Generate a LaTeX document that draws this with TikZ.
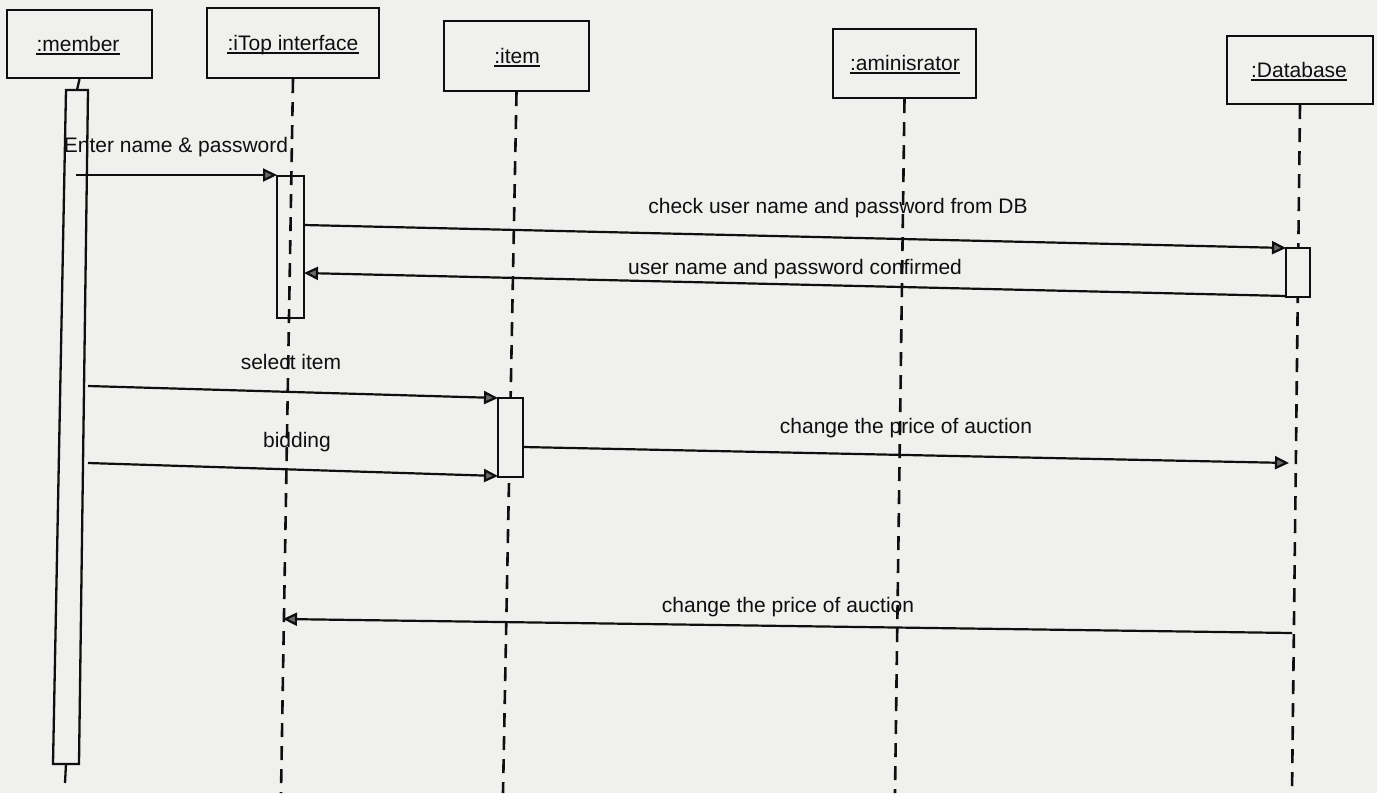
\documentclass[tikz,border=0pt]{standalone}
\usepackage{fontspec}
\setmainfont{Liberation Sans}
\usetikzlibrary{arrows.meta}
\definecolor{paper}{RGB}{240,240,238}
\definecolor{ink}{RGB}{15,15,15}
\definecolor{headfill}{RGB}{105,105,105}
\begin{document}
\begin{tikzpicture}[x=1pt,y=-1pt,
  every node/.style={font=\fontsize{21}{24}\selectfont, inner sep=0pt, text=ink},
  objbox/.style={draw=ink, line width=2.3pt, inner sep=0pt},
  objname/.style={anchor=base},
  uline/.style={draw=ink, line width=1.6pt},
  lifeline/.style={draw=ink, line width=2.6pt, dash pattern=on 14pt off 9pt},
  solidline/.style={draw=ink, line width=2.3pt},
  actbar/.style={draw=ink, line width=2.3pt},
  msg/.style={draw=ink, line width=2.2pt, -{Triangle[length=14pt,width=13pt,fill=headfill]}},
  msglabel/.style={anchor=base},
]
\useasboundingbox (0,0) rectangle (1377,793);
\fill[paper] (0,0) rectangle (1377,793);

% ---- object boxes ----
\node[objbox, minimum width=145pt, minimum height=68pt] (member) at (79.5,44) {};
\node[objbox, minimum width=172pt, minimum height=70pt] (itop)   at (293,43)   {};
\node[objbox, minimum width=145pt, minimum height=70pt] (item)   at (516.5,56) {};
\node[objbox, minimum width=143pt, minimum height=69pt] (admin)  at (904.5,63.5) {};
\node[objbox, minimum width=146pt, minimum height=68pt] (db)     at (1300,70)  {};

% ---- object names (underlined) ----
\node[objname] (memberT) at (78,51)    {:member};
\node[objname] (itopT)   at (293,50)   {:iTop interface};
\node[objname] (itemT)   at (517,63)   {:item};
\node[objname] (adminT)  at (905,70)   {:aminisrator};
\node[objname] (dbT)     at (1299,77)  {:Database};
\foreach \t in {memberT,itopT,itemT,adminT,dbT}
  \draw[uline] ([yshift=-3pt]\t.base west) -- ([yshift=-3pt]\t.base east);

% ---- lifelines ----
\coordinate (mtop) at (77,90);
\coordinate (mbl)  at (53,764);
\coordinate (mbr)  at (79,764);
\coordinate (mtl)  at (66,90);
\coordinate (mtr)  at (88,90);
\coordinate (mbot) at (66,764);
\coordinate (mend) at (65,783);
\coordinate (itopend)  at (281,793);
\coordinate (itemend)  at (503,793);
\coordinate (adminend) at (895,793);
\coordinate (dbend)    at (1292,793);

\draw[solidline] (member.south) -- (mtop);
\draw[solidline] (mtl) -- (mtr) -- (mbr) -- (mbl) -- cycle;
\draw[solidline] (mbot) -- (mend);

\draw[lifeline] (itop.south)  -- (itopend);
\draw[lifeline] (item.south)  -- (itemend);
\draw[lifeline] (admin.south) -- (adminend);
\draw[lifeline] (db.south)    -- (dbend);

% ---- activation bars ----
\node[actbar, minimum width=27pt, minimum height=142pt] (itopbar) at (290.5,247) {};
\node[actbar, fill=paper, minimum width=25pt, minimum height=79pt] (itembar) at (510.5,437.5) {};
\node[actbar, fill=paper, minimum width=24pt, minimum height=49pt] (dbbar) at (1298,272.5) {};

% ---- message end points ----
\coordinate (m1a) at (76,175);    \coordinate (m1b) at (277,175);
\coordinate (m2a) at (304,225);   \coordinate (m2b) at (1286,248);
\coordinate (m3a) at (1286,296);  \coordinate (m3b) at (304,273);
\coordinate (m4a) at (88,386);    \coordinate (m4b) at (498,398);
\coordinate (m5a) at (88,463);    \coordinate (m5b) at (498,476);
\coordinate (m6a) at (523,447);   \coordinate (m6b) at (1289,463);
\coordinate (m7a) at (1292,633);  \coordinate (m7b) at (283,619);

% ---- messages ----
\draw[msg] (m1a) -- (m1b);
\draw[msg] (m2a) -- (m2b);
\draw[msg] (m3a) -- (m3b);
\draw[msg] (m4a) -- (m4b);
\draw[msg] (m5a) -- (m5b);
\draw[msg] (m6a) -- (m6b);
\draw[msg] (m7a) -- (m7b);

% ---- message labels ----
\node[msglabel] (l1) at (176,152) {Enter name \& password};
\node[msglabel] (l2) at (838,213) {check user name and password from DB};
\node[msglabel] (l3) at (795,274) {user name and password confirmed};
\node[msglabel] (l4) at (291,369) {select item};
\node[msglabel] (l5) at (297,447) {bidding};
\node[msglabel] (l6) at (906,433) {change the price of auction};
\node[msglabel] (l7) at (788,612) {change the price of auction};
\end{tikzpicture}
\end{document}
